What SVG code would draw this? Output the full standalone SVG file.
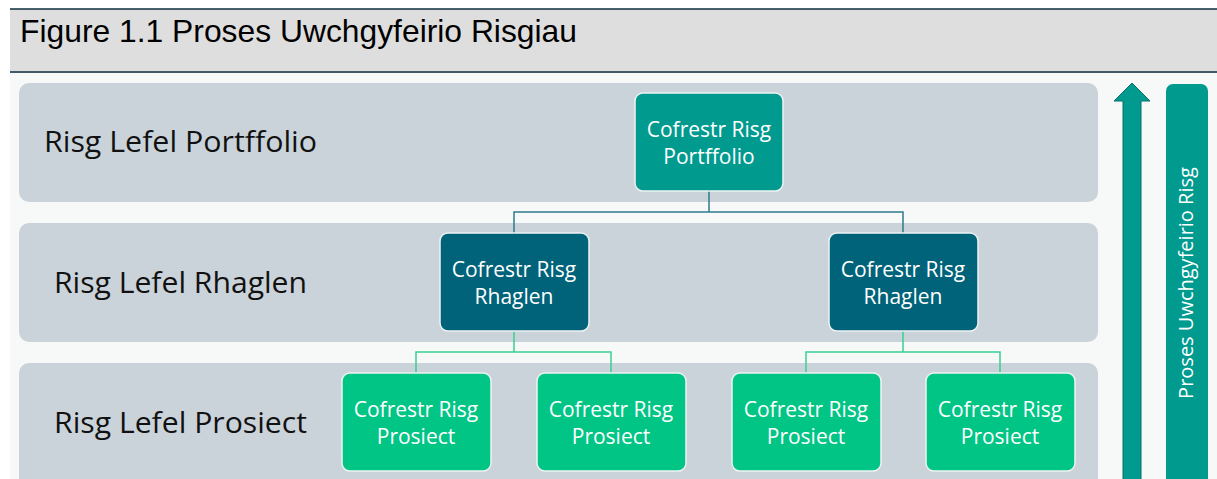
<svg xmlns="http://www.w3.org/2000/svg" width="1217" height="479" viewBox="0 0 1217 479">
<style>
.band{fill:#cbd3da}
.lbl{font-family:"Open Sans","Noto Sans",sans-serif;font-size:29px;fill:#111}
.node text{font-family:"Open Sans","Noto Sans",sans-serif;font-size:21px;fill:#fff;text-anchor:middle}
.box{stroke:#eef3f3;stroke-width:1.5}
.pf{fill:#009a8f}
.pg{fill:#006379}
.pj{fill:#00c585}
.c1{fill:none;stroke:#2f7b8c;stroke-width:1.5}
.c2{fill:none;stroke:#3ad093;stroke-width:1.5}
</style>
<rect x="0" y="0" width="1217" height="479" fill="#ffffff"/>
<rect x="10" y="9" width="1207" height="64" fill="#dedede"/>
<line x1="10" y1="9" x2="1217" y2="9" stroke="#0b2d3b" stroke-width="1.5"/>
<line x1="10" y1="72" x2="1217" y2="72" stroke="#0b2d3b" stroke-width="1.5"/>
<text x="20" y="42" font-family="Liberation Sans, Arial, sans-serif" font-size="31.5" fill="#000" textLength="557" lengthAdjust="spacingAndGlyphs">Figure 1.1 Proses Uwchgyfeirio Risgiau</text>
<rect x="10" y="73" width="1207" height="406" fill="#f7f8f8"/>
<g id="bands">
<rect class="band" x="19" y="83" width="1079" height="119" rx="10"/>
<rect class="band" x="19" y="223" width="1079" height="119" rx="10"/>
<rect class="band" x="19" y="363" width="1079" height="130" rx="10"/>
<text class="lbl" x="44" y="152" textLength="273" lengthAdjust="spacingAndGlyphs">Risg Lefel Portffolio</text>
<text class="lbl" x="54" y="293" textLength="253" lengthAdjust="spacingAndGlyphs">Risg Lefel Rhaglen</text>
<text class="lbl" x="54" y="433" textLength="253" lengthAdjust="spacingAndGlyphs">Risg Lefel Prosiect</text>
</g>
<g id="connectors">
<path class="c1" d="M709 191V212M514 233V212H903V233"/>
<path class="c2" d="M514 331V352M416 373V352H611V373"/>
<path class="c2" d="M903 331V352M806 373V352H1000V373"/>
</g>
<g id="portfolio" class="node">
<rect class="box pf" x="635" y="93" width="148" height="98" rx="8"/>
<text x="709" y="137">Cofrestr Risg</text><text x="709" y="164">Portffolio</text>
</g>
<g id="rhaglen1" class="node">
<rect class="box pg" x="440" y="233" width="149" height="98" rx="8"/>
<text x="514" y="277">Cofrestr Risg</text><text x="514" y="304">Rhaglen</text>
</g>
<g id="rhaglen2" class="node">
<rect class="box pg" x="829" y="233" width="149" height="98" rx="8"/>
<text x="903" y="277">Cofrestr Risg</text><text x="903" y="304">Rhaglen</text>
</g>
<g id="prosiect1" class="node">
<rect class="box pj" x="342" y="373" width="149" height="98" rx="8"/>
<text x="416" y="417">Cofrestr Risg</text><text x="416" y="444">Prosiect</text>
</g>
<g id="prosiect2" class="node">
<rect class="box pj" x="537" y="373" width="149" height="98" rx="8"/>
<text x="611" y="417">Cofrestr Risg</text><text x="611" y="444">Prosiect</text>
</g>
<g id="prosiect3" class="node">
<rect class="box pj" x="732" y="373" width="149" height="98" rx="8"/>
<text x="806" y="417">Cofrestr Risg</text><text x="806" y="444">Prosiect</text>
</g>
<g id="prosiect4" class="node">
<rect class="box pj" x="926" y="373" width="149" height="98" rx="8"/>
<text x="1000" y="417">Cofrestr Risg</text><text x="1000" y="444">Prosiect</text>
</g>
<g id="arrow">
<path d="M1123 485V101H1114L1132 83L1150 101H1141V485Z" fill="#009a8f" stroke="#0b6f69" stroke-width="1"/>
</g>
<g id="process">
<rect x="1166" y="84" width="42" height="410" rx="7" fill="#009a8f"/>
<text transform="translate(1193 283) rotate(-90)" font-family="Open Sans, Noto Sans, sans-serif" font-size="20" fill="#fff" text-anchor="middle">Proses Uwchgyfeirio Risg</text>
</g>
</svg>
